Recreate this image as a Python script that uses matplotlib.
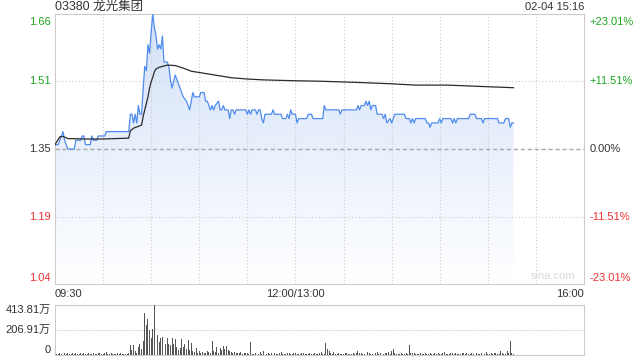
import numpy as np
import matplotlib.pyplot as plt
import matplotlib.transforms as mtransforms
from matplotlib.patches import Polygon
from matplotlib.colors import LinearSegmentedColormap

plt.rcParams['font.family'] = ['Liberation Sans', 'Noto Sans CJK SC', 'DejaVu Sans']

# chart data
stock_title = '03380 龙光集团'
stamp = '02-04 15:16'
prev_close = 1.35
price_ticks = [1.0394, 1.1946, 1.35, 1.5054, 1.6606]
price_labels = ['1.04', '1.19', '1.35', '1.51', '1.66']
pct_labels = ['-23.01%', '-11.51%', '0.00%', '+11.51%', '+23.01%']
time_ticks = [0, 150, 330]   # minutes from 09:30 (lunch break removed)
time_labels = ['09:30', '12:00/13:00', '16:00']
vol_max = 413.81
vol_labels = ['0', '206.91万', '413.81万']

# price line vertices: (minute index, price)
price_min = [0, 2, 4, 5, 6, 7, 8, 12, 13, 16, 17, 18, 19, 22, 23, 24, 26, 27, 31, 32,
             46, 47, 48, 49, 50, 51, 52, 53, 54, 55, 56, 57, 58, 59, 60, 61, 62, 63, 64, 65,
             66, 67, 68, 70, 71, 72, 73, 75, 76, 78, 79, 80, 82, 83, 84, 86, 87, 90, 91, 93,
             94, 95, 97, 98, 99, 100, 102, 103, 104, 105, 106, 108, 109, 110, 111, 112, 113, 119, 120, 121,
             122, 123, 125, 126, 127, 128, 129, 130, 131, 135, 136, 137, 141, 142, 144, 145, 146, 147, 148, 150,
             151, 152, 157, 158, 160, 161, 167, 168, 169, 177, 178, 179, 188, 189, 190, 191, 193, 194, 195, 196,
             197, 198, 200, 201, 204, 205, 206, 207, 209, 210, 212, 218, 219, 221, 222, 223, 224, 225, 231, 232,
             233, 234, 235, 239, 240, 241, 242, 247, 248, 249, 250, 251, 258, 259, 262, 263, 266, 267, 268, 276,
             277, 280, 281, 283, 284, 285, 286]
price_val = [1.36, 1.36, 1.38, 1.39, 1.37, 1.36, 1.35, 1.35, 1.37, 1.37, 1.38, 1.38, 1.36, 1.36, 1.38, 1.37, 1.37, 1.38, 1.38, 1.39,
             1.39, 1.43, 1.43, 1.41, 1.43, 1.41, 1.45, 1.43, 1.43, 1.49, 1.54, 1.53, 1.59, 1.57, 1.62, 1.66, 1.63, 1.61, 1.58, 1.59,
             1.58, 1.61, 1.55, 1.55, 1.54, 1.51, 1.49, 1.52, 1.51, 1.49, 1.48, 1.47, 1.46, 1.45, 1.44, 1.48, 1.47, 1.47, 1.48, 1.48,
             1.46, 1.46, 1.44, 1.45, 1.44, 1.45, 1.46, 1.44, 1.44, 1.45, 1.44, 1.44, 1.42, 1.44, 1.44, 1.43, 1.44, 1.44, 1.43, 1.44,
             1.43, 1.44, 1.44, 1.43, 1.44, 1.44, 1.42, 1.41, 1.43, 1.43, 1.44, 1.43, 1.43, 1.42, 1.42, 1.43, 1.42, 1.44, 1.43, 1.43,
             1.41, 1.42, 1.42, 1.43, 1.43, 1.42, 1.42, 1.45, 1.44, 1.44, 1.43, 1.44, 1.44, 1.45, 1.44, 1.45, 1.45, 1.46, 1.45, 1.46,
             1.44, 1.45, 1.45, 1.43, 1.43, 1.42, 1.43, 1.41, 1.42, 1.41, 1.43, 1.43, 1.42, 1.42, 1.41, 1.42, 1.41, 1.42, 1.42, 1.41,
             1.41, 1.40, 1.41, 1.41, 1.42, 1.41, 1.42, 1.42, 1.41, 1.42, 1.41, 1.42, 1.42, 1.43, 1.43, 1.42, 1.42, 1.41, 1.42, 1.42,
             1.41, 1.41, 1.42, 1.42, 1.40, 1.41, 1.41]

# average price line vertices
avg_min = [0, 3, 5, 8, 20, 30, 46, 47, 49, 52, 54, 55, 56, 57, 58, 59, 60, 61, 62, 63,
           65, 70, 75, 80, 85, 90, 100, 110, 120, 130, 150, 165, 190, 210, 225, 245, 265, 286]
avg_val = [1.36, 1.378, 1.379, 1.374, 1.373, 1.373, 1.375, 1.392, 1.398, 1.402, 1.405, 1.425, 1.44, 1.455, 1.47, 1.49, 1.505, 1.515, 1.528, 1.534,
           1.538, 1.543, 1.542, 1.536, 1.529, 1.526, 1.520, 1.514, 1.511, 1.509, 1.507, 1.506, 1.503, 1.500, 1.497, 1.497, 1.494, 1.491]

# volume per minute (万股)
volume = [20, 12, 8, 15, 10, 71, 14, 9, 18, 12,
          10, 16, 8, 20, 12, 9, 14, 11, 18, 8,
          12, 15, 10, 9, 17, 11, 8, 14, 20, 10,
          9, 13, 22, 11, 8, 15, 10, 12, 9, 16,
          11, 14, 9, 12, 10, 8, 15, 85, 40, 85,
          30, 20, 70, 90, 50, 112, 345, 249, 298, 208,
          140, 216, 413.81, 381, 165, 104, 140, 150, 216, 95,
          140, 90, 85, 140, 95, 130, 70, 45, 60, 135,
          70, 95, 50, 125, 45, 100, 35, 25, 55, 20,
          30, 15, 25, 18, 20, 30, 22, 15, 117, 30,
          28, 65, 20, 60, 45, 75, 50, 75, 45, 30,
          28, 20, 25, 15, 20, 18, 22, 12, 15, 20,
          14, 10, 107, 12, 10, 15, 8, 12, 25, 10,
          30, 12, 9, 14, 10, 18, 12, 20, 9, 11,
          15, 25, 10, 12, 8, 20, 14, 10, 12, 18,
          15, 10, 12, 8, 14, 20, 10, 9, 12, 16,
          10, 8, 18, 12, 9, 14, 22, 10, 12, 99,
          50, 30, 15, 10, 25, 12, 8, 14, 10, 12,
          9, 15, 20, 10, 12, 8, 14, 10, 18, 30,
          15, 20, 10, 12, 55, 25, 14, 10, 12, 9,
          15, 22, 10, 18, 12, 9, 14, 20, 25, 12,
          30, 50, 14, 10, 9, 12, 18, 10, 8, 15,
          12, 85, 20, 14, 18, 10, 9, 12, 15, 10,
          8, 14, 12, 10, 20, 9, 12, 15, 10, 18,
          12, 9, 14, 25, 10, 12, 8, 15, 18, 10,
          14, 9, 12, 10, 20, 15, 12, 18, 10, 9,
          14, 12, 10, 15, 8, 12, 18, 10, 9, 25,
          12, 10, 14, 9, 20, 15, 12, 10, 30, 14,
          10, 12, 35, 15, 112, 20, 10]

GREEN = '#1ea81e'
RED = '#f03030'
DARK = '#333333'
GRID = '#cccccc'

fig = plt.figure(figsize=(6.4, 3.6), dpi=100)
ax = fig.add_axes([55 / 640, 76 / 360, 529 / 640, 270 / 360])
axv = fig.add_axes([55 / 640, 5 / 360, 529 / 640, 50 / 360])

ylo, yhi = price_ticks[0], price_ticks[-1]

# gradient fill under the price line
grad = np.linspace(0, 1, 256).reshape(-1, 1)
cmap = LinearSegmentedColormap.from_list('fillgrad', ['#ffffff', '#d3e1f9'])
img = ax.imshow(grad, extent=[price_min[0], price_min[-1], ylo, yhi], origin='lower',
                cmap=cmap, aspect='auto', zorder=1, interpolation='bilinear')
verts = list(zip(price_min, price_val)) + [(price_min[-1], ylo), (price_min[0], ylo)]
poly = Polygon(verts, closed=True, transform=ax.transData, facecolor='none', edgecolor='none')
ax.add_patch(poly)
img.set_clip_path(poly)

ax.plot(price_min, price_val, color='#4f8ced', lw=0.9, zorder=4)
ax.plot(avg_min, avg_val, color='#2b2b2b', lw=0.9, zorder=5)

# grid
for m in range(30, 330, 30):
    ax.axvline(m, color=GRID, lw=0.8, ls=(0, (1, 2)), zorder=2)
for y in price_ticks[1:-1]:
    if y == prev_close:
        ax.axhline(y, color='#aaaaaa', lw=1.0, ls=(0, (3, 2)), zorder=2)
    else:
        ax.axhline(y, color=GRID, lw=0.8, ls=(0, (1, 2)), zorder=2)

ax.set_xlim(0, 330)
ax.set_ylim(ylo, yhi)
ax.set_xticks([])
ax.set_yticks([])
for s in ax.spines.values():
    s.set_color(GRID)
    s.set_linewidth(0.8)

# price / percent labels
colors = [RED, RED, DARK, GREEN, GREEN]
vas = ['bottom', 'center', 'center', 'center', 'top']
dys = [1, 0, 0, 0, -2]
base_tr = mtransforms.blended_transform_factory(ax.transAxes, ax.transData)
for y, pl, cl, c, va, dy in zip(price_ticks, price_labels, pct_labels, colors, vas, dys):
    ltr = mtransforms.offset_copy(base_tr, fig=fig, x=-3, y=dy, units='points')
    rtr = mtransforms.offset_copy(base_tr, fig=fig, x=4, y=dy, units='points')
    ax.text(0, y, pl, transform=ltr, ha='right', va=va, color=c, fontsize=8)
    ax.text(1, y, cl, transform=rtr, ha='left', va=va, color=c, fontsize=8)

# time labels
time_tr = mtransforms.blended_transform_factory(ax.transData, fig.transFigure)
has = ['left', 'center', 'right']
for t, lab, ha in zip(time_ticks, time_labels, has):
    ax.text(t, 1 - 294 / 360, lab, transform=time_tr, ha=ha, va='center', color=DARK, fontsize=8)

ax.text(0.983, 0.012, 'sina.com', transform=ax.transAxes, ha='right', va='bottom',
        color='#d9d9d9', fontsize=8)

fig.text(55 / 640, 1 - 7 / 360, stock_title, ha='left', va='center', color=DARK, fontsize=9)
fig.text(584 / 640, 1 - 7 / 360, stamp, ha='right', va='center', color=DARK, fontsize=8)

# volume panel
axv.bar(np.arange(len(volume)), volume, width=0.6, color='#555555', zorder=3)
axv.axhline(vol_max / 2, color=GRID, lw=0.8, ls=(0, (1, 1)), zorder=1)
axv.set_xlim(0, 330)
axv.set_ylim(0, vol_max)
axv.set_xticks([])
axv.set_yticks([])
for s in axv.spines.values():
    s.set_color(GRID)
    s.set_linewidth(0.8)
axv.spines['top'].set_linestyle((0, (1, 1)))

vleft_tr = mtransforms.offset_copy(mtransforms.blended_transform_factory(axv.transAxes, axv.transData),
                                   fig=fig, x=-3, y=0, units='points')
for v, lab, va in zip([0, vol_max / 2, vol_max], vol_labels, ['bottom', 'center', 'top']):
    axv.text(0, v, lab, transform=vleft_tr, ha='right', va=va, color=DARK, fontsize=8)

fig.savefig('out.png', dpi=100)
